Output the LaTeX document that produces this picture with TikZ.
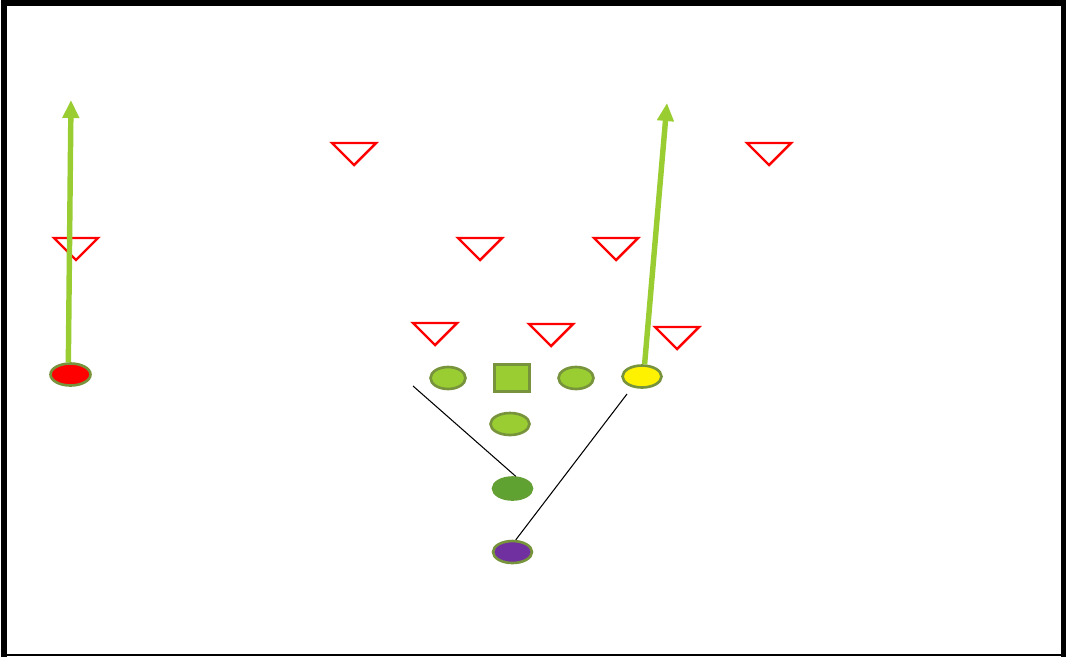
\documentclass[tikz,border=0pt]{standalone}
\usepackage{tikz}
\usetikzlibrary{arrows.meta,positioning,shapes.geometric}
\definecolor{fieldgreen}{HTML}{9ACD32}
\definecolor{rimgreen}{HTML}{77933C}
\definecolor{backgreen}{HTML}{5FA232}
\definecolor{qbpurple}{HTML}{7030A0}

\begin{document}
\begin{tikzpicture}[
  x=0.02cm, y=-0.02cm,
  player/.style={ellipse, draw=rimgreen, line width=1.5pt, inner sep=0pt,
                 minimum width=0.74cm, minimum height=0.44cm},
  snapbox/.style={rectangle, draw=rimgreen, fill=fieldgreen, line width=1.5pt,
                 inner sep=0pt, minimum width=0.7cm, minimum height=0.54cm},
  route/.style={-{Triangle[length=3.6mm,width=3.2mm]}, line width=3.1pt, fieldgreen},
  block/.style={line width=0.6pt, black},
  defender/.style={draw=red, line width=1.4pt, line join=miter},
  frame/.style={line width=3.4pt, black}]

\useasboundingbox (0,0) rectangle (1072,657);

% ---- the frame ------------------------------------------------------------
\draw[frame] (4,657) -- (4,3) -- (1063.5,3) -- (1063.5,657);
\draw[line width=1.1pt] (4,655) -- (1063.5,655);

% ---- the defence --------------------------------------------------------
\foreach \x/\y in {354/154, 769/154, 76/249, 480/249, 616/249,
                   435/334, 551/335, 677/338}{
  \draw[defender] (\x-22,\y-11) -- (\x+22,\y-11) -- (\x,\y+11) -- cycle;
}

% ---- the offence --------------------------------------------------------
\node[player, fill=red, minimum width=0.8cm]         (xrec)  at (70.5,374.5) {};
\node[player, fill=fieldgreen, minimum width=0.7cm]  (lguard) at (448,378) {};
\node[snapbox]                                       (snap)  at (512,378) {};
\node[player, fill=fieldgreen, minimum width=0.7cm]  (rguard) at (576,378) {};
\node[player, fill=yellow, minimum width=0.78cm]     (yrec)  at (642,376.5) {};
\node[player, fill=fieldgreen, minimum width=0.78cm] (fullb) at (510,424) {};
\node[player, fill=backgreen, draw=backgreen!85!rimgreen, minimum width=0.78cm]
                                                     (tailb) at (512.5,488.5) {};
\node[player, fill=qbpurple, minimum width=0.78cm]   (qb)    at (512.5,552) {};

% ---- the routes and the blocking lanes ----------------------------------
\coordinate (xgo)   at (71,100);
\coordinate (ygo)   at (667,103);
\coordinate (lane1) at (413,386);
\coordinate (lane2) at (627,394);

\draw[route] (xrec.100) -- (xgo);
\draw[route] (yrec.78)  -- (ygo);
\draw[block] (lane1) -- (tailb.75);
\draw[block] (lane2) -- (qb.75);

\end{tikzpicture}
\end{document}
